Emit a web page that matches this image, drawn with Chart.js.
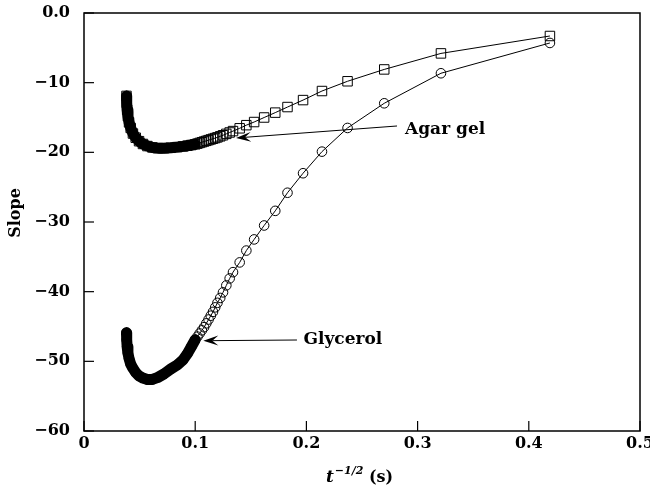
<!DOCTYPE html>
<html>
<head>
<meta charset="utf-8">
<script src="https://cdn.jsdelivr.net/npm/chart.js@4/dist/chart.umd.min.js"></script>
<style>
html,body{margin:0;padding:0;background:#fff;}
</style>
</head>
<body>
<canvas id="grafico" width="650" height="493"></canvas>
<script>
// t^-1/2 (s), shared by both series
const tempo = [0.0382,0.0384,0.0388,0.0395,0.0405,0.0420,0.0440,0.0465,0.0495,0.0530,
  0.0570,0.0615,0.0665,0.0720,0.0780,0.0840,0.0890,0.0930,0.0965,0.1000,
  0.1020,0.1040,0.1060,0.1080,0.1100,0.1120,0.1140,0.1160,0.1180,0.1200,
  0.1225,0.1250,0.1280,0.1310,0.1340,0.1400,0.1460,0.1530,0.1620,0.1720,
  0.1830,0.1970,0.2140,0.2370,0.2700,0.3210,0.4190];

const agar = [-11.9,-12.9,-13.9,-14.8,-15.7,-16.5,-17.3,-17.9,-18.4,-18.8,
  -19.1,-19.3,-19.4,-19.4,-19.35,-19.25,-19.15,-19.05,-18.95,-18.85,
  -18.75,-18.65,-18.55,-18.45,-18.35,-18.25,-18.15,-18.05,-17.95,-17.85,
  -17.7,-17.55,-17.35,-17.15,-16.95,-16.55,-16.1,-15.65,-15.0,-14.3,
  -13.5,-12.5,-11.2,-9.8,-8.1,-5.8,-3.3];

const glicerol = [-45.9,-46.9,-47.9,-48.8,-49.6,-50.4,-51.0,-51.6,-52.1,-52.4,
  -52.6,-52.6,-52.3,-51.8,-51.1,-50.5,-49.8,-48.9,-47.9,-46.9,
  -46.45,-46.0,-45.55,-45.1,-44.55,-44.0,-43.45,-42.9,-42.25,-41.6,
  -40.9,-40.1,-39.1,-38.1,-37.2,-35.8,-34.1,-32.5,-30.5,-28.4,
  -25.8,-23.0,-19.9,-16.5,-12.96,-8.65,-4.3];

const xTicks = [0,0.1,0.2,0.3,0.4,0.5];
const yTicks = [0,-10,-20,-30,-40,-50,-60];

// anotacoes: texto, ponta da seta, cauda da seta, posicao do texto (em unidades dos eixos)
const notas = [
  {txt:"Agar gel", tip:[0.1367,-17.94], tail:[0.2815,-16.22], pos:[0.2887,-17.30]},
  {txt:"Glycerol", tip:[0.1073,-47.04], tail:[0.1915,-46.94], pos:[0.1974,-47.55]}
];

const FONTE = "'DejaVu Serif', serif";
const corte = 0.1; // abaixo disso os marcadores viram uma faixa preta

function pontos(ys){ return tempo.map((x,i)=>({x:x, y:ys[i]})); }

function fmtY(v){
  if(v===0) return "0.0";
  return "\u2212" + Math.abs(v);
}

function seta(ctx, x1, y1, x2, y2, comp, larg){
  const ang = Math.atan2(y2-y1, x2-x1);
  ctx.beginPath();
  ctx.moveTo(x1,y1);
  ctx.lineTo(x2 - Math.cos(ang)*comp*0.6, y2 - Math.sin(ang)*comp*0.6);
  ctx.stroke();
  ctx.beginPath();
  ctx.moveTo(x2,y2);
  ctx.lineTo(x2 - Math.cos(ang)*comp + Math.sin(ang)*larg, y2 - Math.sin(ang)*comp - Math.cos(ang)*larg);
  ctx.lineTo(x2 - Math.cos(ang)*comp*0.6, y2 - Math.sin(ang)*comp*0.6);
  ctx.lineTo(x2 - Math.cos(ang)*comp - Math.sin(ang)*larg, y2 - Math.sin(ang)*comp + Math.cos(ang)*larg);
  ctx.closePath();
  ctx.fill();
}

const extras = {
  id:'extras',
  afterDraw(chart){
    const ctx = chart.ctx;
    const a = chart.chartArea;
    const sx = chart.scales.x, sy = chart.scales.y;
    ctx.save();
    ctx.strokeStyle = "#000";
    ctx.fillStyle = "#000";

    // moldura
    ctx.lineWidth = 1.5;
    ctx.strokeRect(a.left, a.top, a.right-a.left, a.bottom-a.top);

    // ticks para dentro
    ctx.lineWidth = 1.2;
    xTicks.forEach(v=>{
      const px = sx.getPixelForValue(v);
      ctx.beginPath(); ctx.moveTo(px, a.bottom); ctx.lineTo(px, a.bottom-10); ctx.stroke();
    });
    yTicks.forEach(v=>{
      const py = sy.getPixelForValue(v);
      ctx.beginPath(); ctx.moveTo(a.left, py); ctx.lineTo(a.left+10, py); ctx.stroke();
    });

    // anotacoes
    ctx.lineWidth = 1;
    ctx.font = "bold 17px " + FONTE;
    ctx.textBaseline = "alphabetic";
    ctx.textAlign = "left";
    notas.forEach(n=>{
      const tx = sx.getPixelForValue(n.tail[0]), ty = sy.getPixelForValue(n.tail[1]);
      const hx = sx.getPixelForValue(n.tip[0]), hy = sy.getPixelForValue(n.tip[1]);
      seta(ctx, tx, ty, hx, hy, 15, 5);
      ctx.fillText(n.txt, sx.getPixelForValue(n.pos[0]), sy.getPixelForValue(n.pos[1]));
    });

    // titulo do eixo x: t^-1/2 (s)
    ctx.font = "italic bold 17px " + FONTE;
    const wt = ctx.measureText("t").width;
    ctx.font = "italic bold 11px " + FONTE;
    const ws = ctx.measureText("\u22121/2").width;
    ctx.font = "bold 16px " + FONTE;
    const wp = ctx.measureText(" (s)").width;
    let x0 = (a.left + a.right)/2 - (wt+ws+wp)/2 - 3;
    const base = 482;
    ctx.font = "italic bold 17px " + FONTE;
    ctx.fillText("t", x0, base);
    ctx.font = "italic bold 11px " + FONTE;
    ctx.fillText("\u22121/2", x0+wt+1, base-8);
    ctx.font = "bold 16px " + FONTE;
    ctx.fillText(" (s)", x0+wt+ws+1, base);

    // titulo do eixo y
    ctx.translate(16, 213);
    ctx.rotate(-Math.PI/2);
    ctx.textAlign = "center";
    ctx.textBaseline = "middle";
    ctx.font = "bold 16px " + FONTE;
    ctx.fillText("Slope", 0, 0);
    ctx.restore();
  }
};

const chart = new Chart(document.getElementById("grafico"), {
  type:'scatter',
  data:{
    datasets:[
      {data:pontos(agar).filter(p=>p.x<=corte), showLine:true, borderColor:'#000', borderWidth:11,
        borderCapStyle:'round', borderJoinStyle:'round', pointRadius:0},
      {data:pontos(glicerol).filter(p=>p.x<=corte), showLine:true, borderColor:'#000', borderWidth:11,
        borderCapStyle:'round', borderJoinStyle:'round', pointRadius:0},
      {label:'Agar gel', data:pontos(agar), showLine:true, borderColor:'#000', borderWidth:1,
        pointStyle:'rect', pointRadius:6.7, pointBorderWidth:1, pointBackgroundColor:'rgba(0,0,0,0)', pointBorderColor:'#000'},
      {label:'Glycerol', data:pontos(glicerol), showLine:true, borderColor:'#000', borderWidth:1,
        pointStyle:'circle', pointRadius:4.8, pointBorderWidth:1, pointBackgroundColor:'rgba(0,0,0,0)', pointBorderColor:'#000'}
    ]
  },
  options:{
    responsive:false,
    animation:false,
    layout:{padding:{left:0, right:10, top:13, bottom:0}},
    plugins:{legend:{display:false}, tooltip:{enabled:false}},
    scales:{
      x:{
        type:'linear', min:0, max:0.5,
        grid:{display:false}, border:{display:false},
        afterBuildTicks(s){ s.ticks = xTicks.map(v=>({value:v})); },
        ticks:{color:'#000', padding:0, maxRotation:0, font:{family:FONTE, size:16, weight:'bold', lineHeight:0.6},
          callback:(v)=> v===0 ? "0" : String(Math.round(v*10)/10)},
        afterFit(s){ s.height = 62; s.paddingRight = 0; s.paddingLeft = 0; }
      },
      y:{
        type:'linear', min:-60, max:0,
        grid:{display:false}, border:{display:false},
        afterBuildTicks(s){ s.ticks = yTicks.map(v=>({value:v})); },
        ticks:{color:'#000', padding:6, font:{family:FONTE, size:16, weight:'bold'}, callback:(v)=>fmtY(v)},
        afterFit(s){ s.width = 84; s.paddingTop = 0; s.paddingBottom = 0; }
      }
    }
  },
  plugins:[extras]
});
</script>
</body>
</html>
